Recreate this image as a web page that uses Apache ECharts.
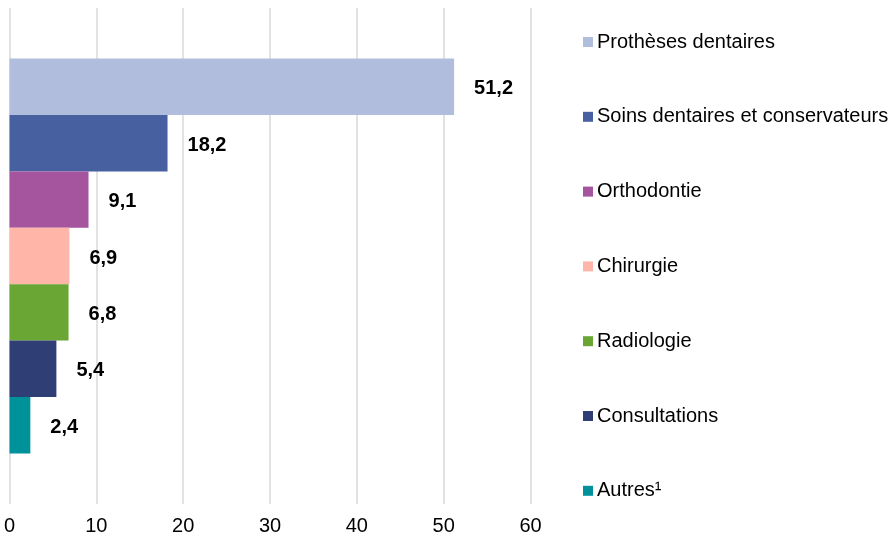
<!DOCTYPE html>
<html><head><meta charset="utf-8">
<script src="https://cdn.jsdelivr.net/npm/echarts@6/dist/echarts.min.js"></script>
<style>html,body{margin:0;padding:0;background:#fff}#c{width:893px;height:539px}</style>
</head><body><div id="c"></div>
<script>
const seriesNames = ["Prothèses dentaires","Soins dentaires et conservateurs","Orthodontie","Chirurgie","Radiologie","Consultations","Autres¹"];
const seriesValues = [51.2, 18.2, 9.1, 6.9, 6.8, 5.4, 2.4];
const seriesColors = ["#B0BDDD","#4660A0","#A5559E","#FFB6A8","#6AA633","#2F3E75","#00929B"];
const xTicks = [0, 10, 20, 30, 40, 50, 60];

const chart = echarts.init(document.getElementById('c'));
const font = '"Liberation Sans", Arial, sans-serif';
chart.setOption({
  animation: false,
  grid: {left: 9.5, right: 362.5, top: 8, bottom: 35, containLabel: false},
  xAxis: {
    type: 'value', min: xTicks[0], max: xTicks[xTicks.length-1], interval: 10,
    axisLine: {show: false}, axisTick: {show: false},
    splitLine: {show: true, lineStyle: {color: '#D9D9D9', width: 1.5}},
    axisLabel: {color: '#000', fontSize: 20, fontFamily: font, margin: 12}
  },
  yAxis: {
    type: 'category', data: [''], inverse: true,
    axisLine: {show: false}, axisTick: {show: false}, axisLabel: {show: false}
  },
  legend: {
    orient: 'vertical', left: 578, top: 27,
    itemWidth: 10, itemHeight: 10, itemGap: 54.8, icon: 'rect',
    textStyle: {color: '#000', fontSize: 20, fontFamily: font, lineHeight: 20, padding: [0,0,0,-1]},
    data: seriesNames
  },
  series: seriesNames.map((n, i) => ({
    name: n, type: 'bar', data: [seriesValues[i]],
    barWidth: 56.4, barGap: '0%',
    itemStyle: {color: seriesColors[i]},
    label: {show: true, position: 'right', distance: 20, offset: [0, 2], color: '#000', fontWeight: 'bold',
      fontSize: 20, fontFamily: font,
      formatter: p => String(p.value).replace('.', ',')}
  }))
});
</script></body></html>
